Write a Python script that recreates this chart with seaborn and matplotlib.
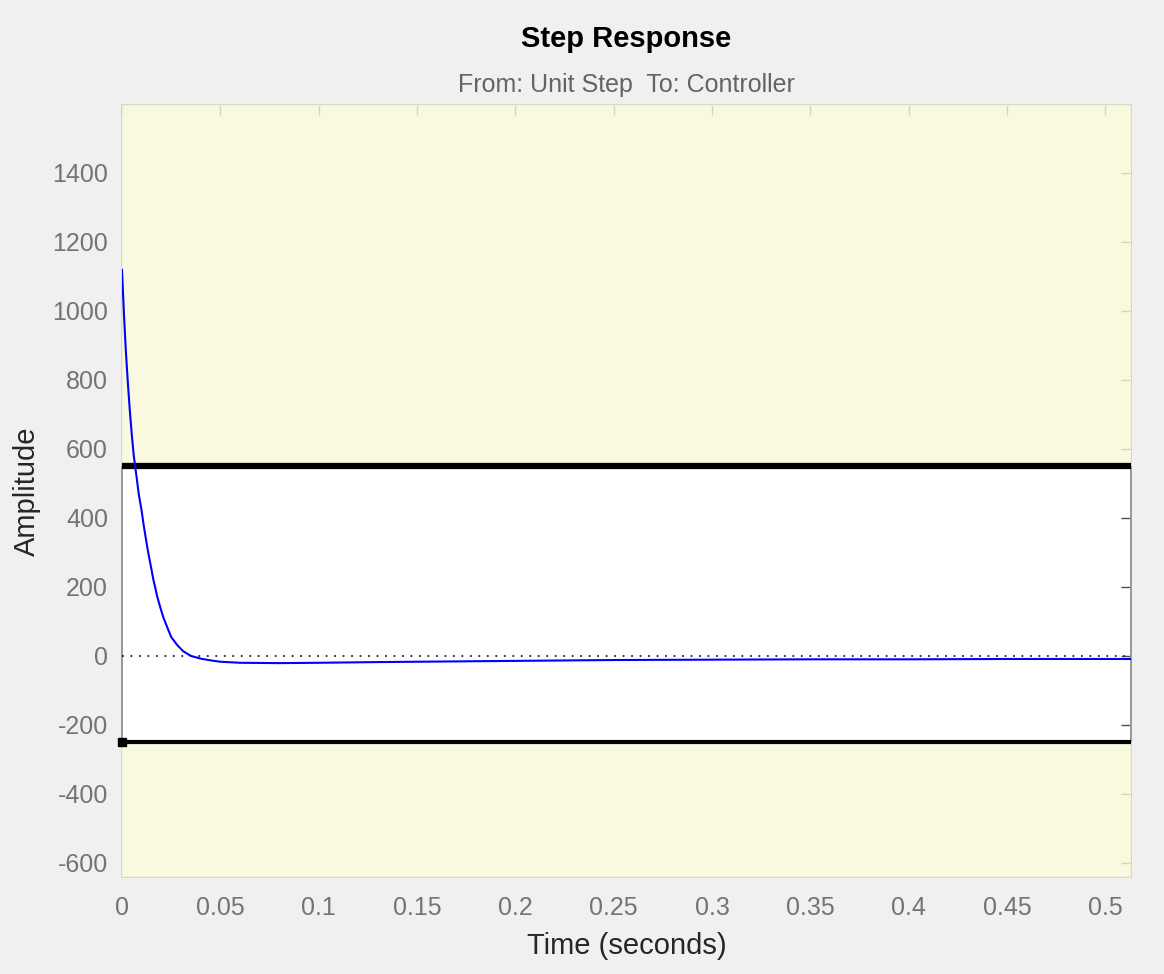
# step response plot with design bounds
import numpy as np
import pandas as pd
import seaborn as sns
from matplotlib import pyplot as plt
from matplotlib.ticker import FuncFormatter

# response samples
time_s = [0.0, 0.001, 0.002, 0.003, 0.004, 0.005, 0.006, 0.0075, 0.0085, 0.010,
          0.011, 0.012, 0.013, 0.014, 0.015, 0.016, 0.017, 0.018, 0.0195, 0.021,
          0.023, 0.025, 0.028, 0.031, 0.035, 0.040, 0.045, 0.050, 0.060, 0.080,
          0.100, 0.130, 0.170, 0.210, 0.250, 0.300, 0.350, 0.400, 0.450, 0.513]
amplitude = [1120, 990, 880, 790, 710, 640, 580, 515, 470, 420,
             380, 345, 310, 280, 250, 220, 195, 170, 140, 112,
             83, 55, 32, 14, 0, -8, -13, -17, -20, -21,
             -20, -18, -16, -14, -12, -11, -10, -10, -9, -9]

upper_bound = 550
lower_bound = -250
x_ticks = [0, 0.05, 0.1, 0.15, 0.2, 0.25, 0.3, 0.35, 0.4, 0.45, 0.5]
y_ticks = [-600, -400, -200, 0, 200, 400, 600, 800, 1000, 1200, 1400]
x_range = (0, 0.513)
y_range = (-641, 1597)

sns.set_theme(style="white")
plt.rcParams['font.family'] = ['Liberation Sans', 'DejaVu Sans']
plt.rcParams['axes.unicode_minus'] = False

fig = plt.figure(figsize=(11.64, 9.74), dpi=100, facecolor='#f0f0f0')
ax = fig.add_axes([0.1048, 0.0996, 0.8668, 0.7926])
ax.set_facecolor('white')

df = pd.DataFrame({'Time': time_s, 'Amplitude': amplitude})
sns.lineplot(data=df, x='Time', y='Amplitude', ax=ax, color='blue',
             lw=1.5, estimator=None, zorder=5)

ax.set_xlim(*x_range)
ax.set_ylim(*y_range)

# yellow "forbidden" regions, drawn over the axes like matlab does
yellow = (0.971, 0.971, 0.843)
ax.axhspan(upper_bound, y_range[1], color=yellow, alpha=0.8, lw=0, zorder=3)
ax.axhspan(y_range[0], lower_bound, color=yellow, alpha=0.8, lw=0, zorder=3)

ax.axhline(upper_bound, color='black', lw=4.5, zorder=4)
ax.axhline(lower_bound, color='black', lw=3, zorder=4)
ax.plot([0], [lower_bound], 's', ms=6, color='black', clip_on=False, zorder=6)
ax.axhline(0, color='#222222', lw=1.3, ls=(0, (1, 3.7)), zorder=4)

# spines tan where the yellow covers them, gray in the allowed band
for s in ax.spines.values():
    s.set_color('#d6d6bc')
    s.set_linewidth(1.2)
ax.vlines([x_range[0], x_range[1]], lower_bound, upper_bound, color='#8c8c8c',
          lw=1.2, clip_on=False, zorder=2.6)

ax.set_xticks(x_ticks)
ax.set_yticks(y_ticks)
ax.xaxis.set_major_formatter(FuncFormatter(lambda v, p: '%g' % v))
ax.tick_params(direction='in', length=7, width=1, color='#505050',
               labelcolor='#747474', labelsize=18, top=True, right=True)
ax.tick_params(axis='x', pad=14)
ax.tick_params(axis='y', pad=10)

ax.set_xlabel('Time (seconds)', fontsize=21, color='#262626', labelpad=8)
ax.set_ylabel('Amplitude', fontsize=21, color='#262626', labelpad=8)

fig.text(626.5 / 1164, 1 - 46.7 / 974, 'Step Response', ha='center',
         va='baseline', fontsize=21, fontweight='bold', color='black')
fig.text(626.5 / 1164, 1 - 91.7 / 974, 'From: Unit Step  To: Controller',
         ha='center', va='baseline', fontsize=18, color='#646464')

fig.savefig('out.png', dpi=100, facecolor=fig.get_facecolor())
